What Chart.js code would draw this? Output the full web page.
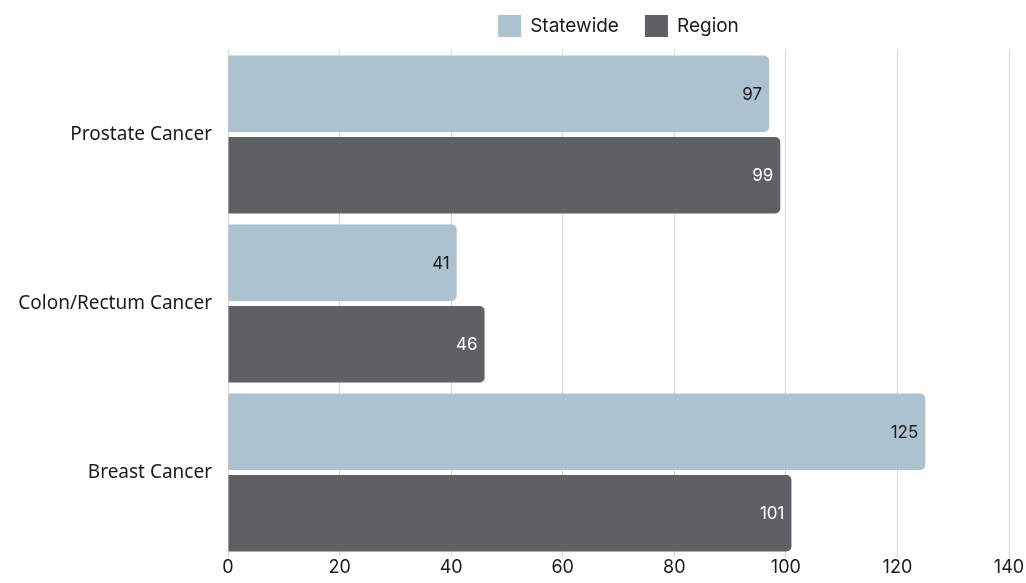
<!DOCTYPE html>
<meta charset="UTF-8">
<style>
  html, body { margin: 0; padding: 0; background: #fff; }
  #wrap { width: 1026px; height: 583px; }
</style>
<div id="wrap">
  <canvas id="myChart"></canvas>
</div>

<script src="https://cdn.jsdelivr.net/npm/chart.js@4.4.0/dist/chart.umd.min.js"></script>

<script>
  const categories = ['Prostate Cancer', 'Colon/Rectum Cancer', 'Breast Cancer'];
  const statewide = [97, 41, 125];
  const region = [99, 46, 101];
  const seriesNames = ['Statewide', 'Region'];

  const lightColor = '#acc2d0';
  const darkColor = '#5f6064';
  const textColor = '#1a1a1a';

  // draw the value at the end of each bar, inside it
  const barValues = {
    id: 'barValues',
    afterDatasetsDraw(chart) {
      const ctx = chart.ctx;
      ctx.save();
      ctx.font = '17px Inter';
      ctx.textAlign = 'right';
      ctx.textBaseline = 'middle';
      chart.data.datasets.forEach((ds, i) => {
        ctx.fillStyle = i === 0 ? textColor : '#ffffff';
        chart.getDatasetMeta(i).data.forEach((bar, j) => {
          ctx.fillText(String(ds.data[j]), bar.x - 7, bar.y + 1);
        });
      });
      ctx.restore();
    }
  };

  // legend centred over the plot area (built-in one centres on the canvas)
  const topLegend = {
    id: 'topLegend',
    afterDraw(chart) {
      const ctx = chart.ctx;
      const area = chart.chartArea;
      const boxW = 23, boxH = 22, gap = 9, itemGap = 26;
      ctx.save();
      ctx.font = '19px Inter';
      ctx.textBaseline = 'middle';
      const items = chart.data.datasets.map(ds => ({
        text: ds.label,
        color: ds.backgroundColor,
        w: boxW + gap + ctx.measureText(ds.label).width
      }));
      const total = items.reduce((s, it) => s + it.w, 0) + itemGap * (items.length - 1);
      let x = (area.left + area.right) / 2 - total / 2;
      const cy = 26;
      items.forEach(it => {
        ctx.fillStyle = it.color;
        ctx.fillRect(x, cy - boxH / 2, boxW, boxH);
        ctx.fillStyle = textColor;
        ctx.fillText(it.text, x + boxW + gap, cy);
        x += it.w + itemGap;
      });
      ctx.restore();
    }
  };

  const ctx = document.getElementById('myChart');

  new Chart(ctx, {
    type: 'bar',
    data: {
      labels: categories,
      datasets: [
        {
          label: seriesNames[0],
          data: statewide,
          backgroundColor: lightColor,
          borderRadius: { topRight: 5, bottomRight: 5 },
          borderSkipped: 'start',
          barPercentage: 0.94,
          categoryPercentage: 0.963
        },
        {
          label: seriesNames[1],
          data: region,
          backgroundColor: darkColor,
          borderRadius: { topRight: 5, bottomRight: 5 },
          borderSkipped: 'start',
          barPercentage: 0.94,
          categoryPercentage: 0.963
        }
      ]
    },
    options: {
      indexAxis: 'y',
      responsive: true,
      maintainAspectRatio: false,
      animation: false,
      layout: {
        padding: { left: 0, right: 17, top: 50, bottom: 0 }
      },
      plugins: {
        legend: { display: false },
        tooltip: { enabled: false }
      },
      scales: {
        x: {
          min: 0,
          max: 140,
          afterFit(scale) {
            scale.height = 26;
          },
          ticks: {
            stepSize: 20,
            color: textColor,
            padding: 0,
            font: { family: 'Inter', size: 18 }
          },
          grid: {
            color: '#d6d6d6',
            drawTicks: false
          },
          border: { display: false }
        },
        y: {
          afterFit(scale) {
            scale.width = 228;
          },
          ticks: {
            color: textColor,
            padding: 8,
            font: { family: 'Noto Sans', size: 19 }
          },
          grid: { display: false },
          border: { display: false }
        }
      }
    },
    plugins: [barValues, topLegend]
  });
</script>
